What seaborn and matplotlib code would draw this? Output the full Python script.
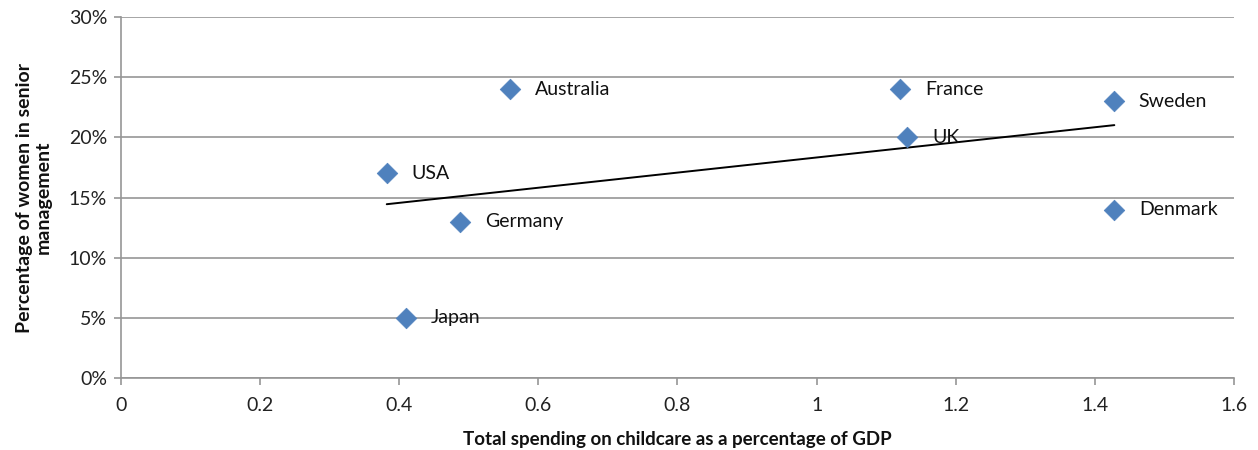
import numpy as np
import pandas as pd
import matplotlib
matplotlib.use("Agg")
import matplotlib.pyplot as plt
import seaborn as sns
from matplotlib.ticker import FuncFormatter

countries = ["Australia", "France", "Sweden", "UK", "USA", "Germany", "Denmark", "Japan"]
spending = [0.559, 1.12, 1.427, 1.13, 0.382, 0.487, 1.428, 0.41]
women_pct = [24, 24, 23, 20, 17, 13, 14, 5]

df = pd.DataFrame({"country": countries, "spending": spending, "women": women_pct})

sns.set_theme(style="white")
plt.rcParams["font.family"] = ["Lato", "DejaVu Sans"]

fig = plt.figure(figsize=(12.58, 4.5), dpi=100)
ax = fig.add_axes([0.0962, 0.16, 0.8847, 0.802])

grid_c = "#969696"
ax.set_xlim(0, 1.6)
ax.set_ylim(0, 30)
ax.set_yticks(np.arange(0, 31, 5))
ax.set_xticks(np.arange(0, 1.61, 0.2))
ax.yaxis.grid(True, color=grid_c, linewidth=1.2)
ax.set_axisbelow(True)
for s in ["top", "right"]:
    ax.spines[s].set_visible(False)
for s in ["left", "bottom"]:
    ax.spines[s].set_color(grid_c)
    ax.spines[s].set_linewidth(1.2)
ax.tick_params(axis="both", which="both", direction="out", length=5, width=1.2,
               color=grid_c, labelsize=14, labelcolor="#222222", pad=5)
ax.tick_params(axis="y", left=True)
ax.tick_params(axis="x", bottom=True, pad=9)
ax.yaxis.set_major_formatter(FuncFormatter(lambda v, p: f"{int(v)}%"))
ax.xaxis.set_major_formatter(FuncFormatter(lambda v, p: "0" if abs(v) < 1e-9 else ("1" if abs(v-1) < 1e-9 else f"{v:.1f}")))

# trendline (linear fit)
coef = np.polyfit(df["spending"], df["women"], 1)
xs = np.array([df["spending"].min(), df["spending"].max()])
sns.lineplot(x=xs, y=np.polyval(coef, xs), ax=ax, color="black", linewidth=1.4, zorder=2)

sns.scatterplot(data=df, x="spending", y="women", ax=ax, marker="D", s=110,
                color="#4F81BD", edgecolor="#4F81BD", linewidth=0.5, zorder=3)

for c, x, y in zip(countries, spending, women_pct):
    ax.annotate(c, (x, y), xytext=(18, 0), textcoords="offset points",
                va="center", ha="left", fontsize=14, color="#111111", zorder=4)

ax.set_xlabel("Total spending on childcare as a percentage of GDP", fontsize=13.5,
              fontweight="bold", color="#111111", labelpad=12)
ax.set_ylabel("Percentage of women in senior\nmanagement", fontsize=14,
              fontweight="bold", color="#111111", labelpad=12, linespacing=1.15)

fig.savefig("out.png", dpi=100)
